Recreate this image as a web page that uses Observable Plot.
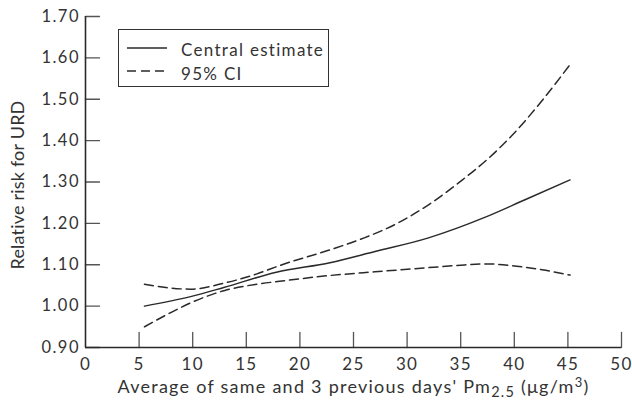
<!DOCTYPE html>
<html><head><meta charset="utf-8">
<script src="https://cdn.jsdelivr.net/npm/d3@7"></script>
<script src="https://cdn.jsdelivr.net/npm/@observablehq/plot@0.6"></script>
<style>
body{margin:0;background:#fff;}
#wrap{position:relative;width:632px;height:406px;font-family:Lato,sans-serif;}
#legend{position:absolute;left:118px;top:29px;width:209px;height:56px;border:1px solid #333;background:#fff;}
#legend svg{display:block;}
</style></head><body>
<div id="wrap"></div>
<script>
// ---- data ----
const xTicks = [0, 5, 10, 15, 20, 25, 30, 35, 40, 45, 50];
const yTicks = [0.9, 1.0, 1.1, 1.2, 1.3, 1.4, 1.5, 1.6, 1.7];

const xCentral = [5.5, 9.8, 12.9, 17.8, 22.8, 27, 32, 37.3, 41, 45.2];
const central  = [1.000, 1.023, 1.045, 1.082, 1.105, 1.132, 1.165, 1.215, 1.257, 1.305];

const xUpper = [5.5, 7.5, 9.8, 13, 16, 18.1, 22.8, 26, 29, 32, 35.1, 37.5, 39.8, 42.6, 45.2];
const upper  = [1.053, 1.045, 1.041, 1.056, 1.078, 1.098, 1.136, 1.165, 1.199, 1.245, 1.304, 1.355, 1.413, 1.497, 1.584];

const xLower = [5.5, 8, 10, 13, 16, 18.1, 22.8, 27, 32, 35, 37.6, 40, 42.6, 45.2];
const lower  = [0.950, 0.985, 1.010, 1.038, 1.053, 1.060, 1.074, 1.083, 1.093, 1.099, 1.102, 1.097, 1.088, 1.075];

const xLabel = "Average of same and 3 previous days' Pm2.5 (μg/m3)";
const yLabel = "Relative risk for URD";
const legendItems = ["Central estimate", "95% CI"];

const toPts = (xs, ys) => xs.map((x, i) => ({x, y: ys[i]}));
const centralPts = toPts(xCentral, central);
const upperPts = toPts(xUpper, upper);
const lowerPts = toPts(xLower, lower);

const ink = "#2a2a2a";
const textInk = "#333";
const tickShape = {draw(context, l) { context.moveTo(0, 0); context.lineTo(0, -l); }};

const plot = Plot.plot({
  width: 632,
  height: 406,
  marginLeft: 85,
  marginRight: 11,
  marginTop: 16,
  marginBottom: 59,
  style: {fontFamily: "Lato, sans-serif", background: "#fff", color: textInk},
  x: {domain: [0, 50]},
  y: {domain: [0.9, 1.7]},
  marks: [
    Plot.axisY(yTicks, {tickSize: 0, tickPadding: 5.5, tickFormat: d3.format(".2f"), label: null, fontSize: 16.5, fill: textInk}),
    Plot.axisX(xTicks, {tickSize: 0, tickPadding: 10, tickFormat: d3.format("d"), label: null, fontSize: 17, fill: textInk}),
    Plot.vector(yTicks, {x: 0, y: d => d, rotate: 90, length: 14, anchor: "start", shape: tickShape, stroke: "#555", strokeWidth: 1.3}),
    Plot.vector(xTicks.filter(d => d > 0), {x: d => d, y: 0.9, rotate: 0, length: 15, anchor: "start", shape: tickShape, stroke: "#555", strokeWidth: 1.3}),
    Plot.ruleX([0], {stroke: ink, strokeWidth: 1.6}),
    Plot.ruleY([0.9], {stroke: ink, strokeWidth: 1.6}),
    Plot.line(centralPts, {x: "x", y: "y", curve: "monotone-x", stroke: ink, strokeWidth: 1.5}),
    Plot.line(upperPts, {x: "x", y: "y", curve: "monotone-x", stroke: ink, strokeWidth: 1.5, strokeDasharray: "9,5"}),
    Plot.line(lowerPts, {x: "x", y: "y", curve: "monotone-x", stroke: ink, strokeWidth: 1.5, strokeDasharray: "9,5"}),
    Plot.text([yLabel], {frameAnchor: "left", textAnchor: "middle", rotate: -90, dx: -67, dy: 3, fontSize: 18, fill: textInk}),
    Plot.text([xLabel], {frameAnchor: "bottom", textAnchor: "middle", dy: 45, fontSize: 18, fill: textInk})
  ]
});

document.getElementById("wrap").appendChild(plot);

// wider letter spacing to approximate the reference's geometric typeface
plot.querySelectorAll('[aria-label="y-axis tick label"] text').forEach(t => t.setAttribute("letter-spacing", "1.5"));
plot.querySelectorAll('[aria-label="x-axis tick label"] text').forEach(t => t.setAttribute("letter-spacing", "1.3"));

// subscripts / superscripts in the x label
const NS = "http://www.w3.org/2000/svg";
plot.querySelectorAll("text").forEach(t => {
  if (t.textContent === yLabel) t.setAttribute("letter-spacing", "0.2");
  if (t.textContent === xLabel) {
    t.textContent = "";
    t.setAttribute("letter-spacing", "1.25");
    const parts = [
      ["Average of same and 3 previous days' Pm", null, null],
      ["2.5", 4, 14.5],
      [" (μg/m", -4, null],
      ["3", -6, 13],
      [")", 6, null]
    ];
    for (const [s, dy, fs] of parts) {
      const sp = document.createElementNS(NS, "tspan");
      sp.textContent = s;
      if (dy !== null) sp.setAttribute("dy", dy);
      if (fs !== null) sp.setAttribute("font-size", fs);
      t.appendChild(sp);
    }
  }
});

// legend inside the plot area
const lg = document.createElement("div");
lg.id = "legend";
lg.innerHTML = `<svg width="209" height="56">
  <line x1="8" x2="48" y1="18" y2="18" stroke="${ink}" stroke-width="1.5"/>
  <line x1="8" x2="48" y1="41" y2="41" stroke="${ink}" stroke-width="1.5" stroke-dasharray="9,5"/>
  <text x="62" y="26" font-size="17" letter-spacing="1.3" fill="${textInk}" font-family="Lato, sans-serif">${legendItems[0]}</text>
  <text x="62" y="50" font-size="17" letter-spacing="1.3" fill="${textInk}" font-family="Lato, sans-serif">${legendItems[1]}</text>
</svg>`;
document.getElementById("wrap").appendChild(lg);
</script>
</body></html>
